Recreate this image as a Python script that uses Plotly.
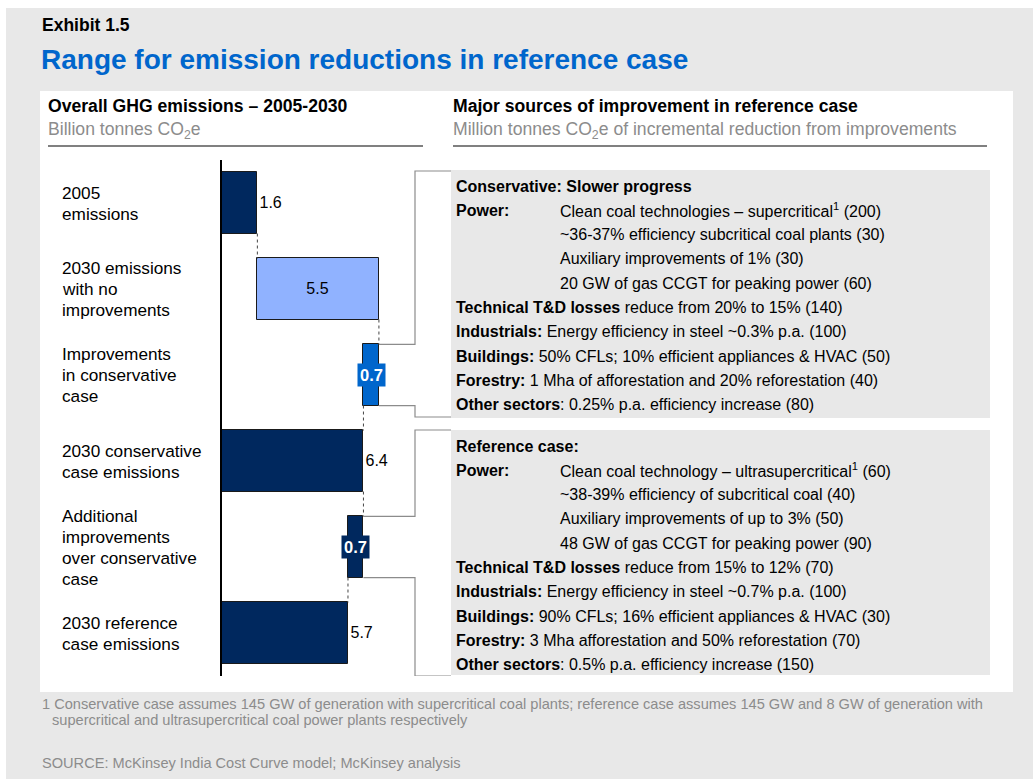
import plotly.graph_objects as go

W, H = 1033, 779

# waterfall data (billion tonnes CO2e)
categories = [
    "2005<br>emissions",
    "2030 emissions<br>with no<br>improvements",
    "Improvements<br>in conservative<br>case",
    "2030 conservative<br>case emissions",
    "Additional<br>improvements<br>over conservative<br>case",
    "2030 reference<br>case emissions",
]
values = [1.6, 5.5, -0.7, 6.4, -0.7, 5.7]
measures = ["absolute", "relative", "relative", "total", "relative", "total"]
bar_colors = ["#00285e", "#90b2ff", "#0066cc", "#00285e", "#00285e", "#00285e"]
value_labels = ["1.6", "5.5", "0.7", "6.4", "0.7", "5.7"]

# right-hand text boxes: (text at left column, text at indented column)
conservative_rows = [
    ("<b>Conservative: Slower progress</b>", ""),
    ("<b>Power:</b>", "Clean coal technologies – supercritical<sup>1</sup> (200)"),
    ("", "~36-37% efficiency subcritical coal plants (30)"),
    ("", "Auxiliary improvements of 1% (30)"),
    ("", "20 GW of gas CCGT for peaking power (60)"),
    ("<b>Technical T&amp;D losses</b> reduce from 20% to 15% (140)", ""),
    ("<b>Industrials:</b> Energy efficiency in steel ~0.3% p.a. (100)", ""),
    ("<b>Buildings:</b> 50% CFLs; 10% efficient appliances &amp; HVAC (50)", ""),
    ("<b>Forestry:</b> 1 Mha of afforestation and 20% reforestation (40)", ""),
    ("<b>Other sectors</b>: 0.25% p.a. efficiency increase (80)", ""),
]
reference_rows = [
    ("<b>Reference case:</b>", ""),
    ("<b>Power:</b>", "Clean coal technology – ultrasupercritical<sup>1</sup> (60)"),
    ("", "~38-39% efficiency of subcritical coal (40)"),
    ("", "Auxiliary improvements of up to 3% (50)"),
    ("", "48 GW of gas CCGT for peaking power (90)"),
    ("<b>Technical T&amp;D losses</b> reduce from 15% to 12% (70)", ""),
    ("<b>Industrials:</b> Energy efficiency in steel ~0.7% p.a. (100)", ""),
    ("<b>Buildings:</b> 90% CFLs; 16% efficient appliances &amp; HVAC (30)", ""),
    ("<b>Forestry:</b> 3 Mha afforestation and 50% reforestation (70)", ""),
    ("<b>Other sectors</b>: 0.5% p.a. efficiency increase (150)", ""),
]

footnote = [
    "1 Conservative case assumes 145 GW of generation with supercritical coal plants; "
    "reference case assumes 145 GW and 8 GW of generation with",
    "supercritical and ultrasupercritical coal power plants respectively",
]
source = "SOURCE: McKinsey India Cost Curve model; McKinsey analysis"

FONT = "Liberation Sans, Arial, sans-serif"
GRAY_BG = "#e8e8e8"
GRAY_TXT = "#8c8c8c"


def px(x):
    return x / W


def py(y):
    return 1 - y / H


# plot area in pixels
X0, XS, XR = 222, 22.1, 460
Y0, Y1 = 160, 676
ROW = (Y1 - Y0) / len(values)
BW = 0.71


def xd(p):
    return (p - X0) / XS


def yd(p):
    return (p - Y0) / ROW - 0.5


# bases / lengths of the floating bars
bases, lengths, ends = [], [], []
running = 0
for v, m in zip(values, measures):
    start = running if m == "relative" else 0
    running = running + v if m == "relative" else v
    bases.append(min(start, running))
    lengths.append(abs(running - start))
    ends.append(running)

rows = list(range(len(values)))
is_cut = [m == "relative" and v < 0 for v, m in zip(values, measures)]
text = [" " if c else t for t, c in zip(value_labels, is_cut)]
textpos = []
for v, m, c in zip(values, measures, is_cut):
    if c:
        textpos.append("none")
    elif m == "relative":
        textpos.append("inside")
    else:
        textpos.append("outside")

fig = go.Figure()
fig.add_trace(go.Bar(
    y=rows, x=lengths, base=bases, orientation="h", width=BW,
    marker=dict(color=bar_colors, line=dict(color="#1a1a1a", width=1)),
    text=text, textposition=textpos, insidetextanchor="middle",
    textfont=dict(family=FONT, size=16, color="black"),
    constraintext="none", cliponaxis=False, hoverinfo="skip",
))

shapes = [
    dict(type="rect", xref="paper", yref="paper", x0=px(6), x1=1, y0=0, y1=py(8),
         fillcolor=GRAY_BG, line_width=0, layer="below"),
    dict(type="rect", xref="paper", yref="paper", x0=px(40), x1=px(1013), y0=py(692), y1=py(91),
         fillcolor="white", line_width=0, layer="below"),
    dict(type="rect", xref="paper", yref="paper", x0=px(451), x1=px(990), y0=py(418), y1=py(170),
         fillcolor=GRAY_BG, line_width=0, layer="below"),
    dict(type="rect", xref="paper", yref="paper", x0=px(451), x1=px(990), y0=py(675), y1=py(430),
         fillcolor=GRAY_BG, line_width=0, layer="below"),
    dict(type="line", xref="paper", yref="paper", x0=px(48), x1=px(423), y0=py(146), y1=py(146),
         line=dict(color="#808080", width=2)),
    dict(type="line", xref="paper", yref="paper", x0=px(453), x1=px(987), y0=py(146), y1=py(146),
         line=dict(color="#808080", width=2)),
]

# dotted connectors between consecutive bars
for i in range(len(values) - 1):
    shapes.append(dict(type="line", xref="x", yref="y", x0=ends[i], x1=ends[i],
                       y0=i + BW / 2, y1=i + 1 - BW / 2,
                       line=dict(color="#444", width=1, dash="dot")))

# brackets linking improvement bars to their text boxes
boxes = {2: (171, 417), 4: (430, 676)}
for i, (top, bot) in boxes.items():
    xr = bases[i] + lengths[i]
    for ybar, ybox in ((i - BW / 2, top), (i + BW / 2, bot)):
        shapes.append(dict(
            type="path", xref="x", yref="y",
            path=f"M {xr},{ybar} L {xd(415)},{ybar} L {xd(415)},{yd(ybox)} L {xd(451)},{yd(ybox)}",
            line=dict(color="#8c8c8c", width=1.2)))

annotations = []


def add_text(x, y, s, size, color="black", **kw):
    annotations.append(dict(xref="paper", yref="paper", x=px(x), y=py(y), text=s,
                            showarrow=False, xanchor="left", yanchor="middle", align="left",
                            font=dict(family=FONT, size=size, color=color), **kw))


add_text(40, 25, "<b>Exhibit 1.5</b>", 17.5)
add_text(39, 60, "<b>Range for emission reductions in reference case</b>", 28, color="#0066cc")
add_text(46, 106, "<b>Overall GHG emissions – 2005-2030</b>", 17.6)
add_text(46, 130, "Billion tonnes CO<sub>2</sub>e", 17.6, color=GRAY_TXT)
add_text(451, 106, "<b>Major sources of improvement in reference case</b>", 17.6)
add_text(451, 130, "Million tonnes CO<sub>2</sub>e of incremental reduction from improvements", 17.6,
         color=GRAY_TXT)

for y_first, box_rows in ((186, conservative_rows), (446, reference_rows)):
    for k, (left, right) in enumerate(box_rows):
        y = y_first + k * 24.3
        if left:
            add_text(454, y, left, 16)
        if right:
            add_text(558, y, right, 16)

add_text(40, 704, footnote[0], 14.6, color=GRAY_TXT)
add_text(50, 720, footnote[1], 14.6, color=GRAY_TXT)
add_text(40, 763, source, 14.6, color=GRAY_TXT)

# category labels, one annotation per line for a tighter line pitch
LINE = 21
for i, c in enumerate(categories):
    parts = c.split("<br>")
    for k, part in enumerate(parts):
        off = (k - (len(parts) - 1) / 2) * LINE / ROW
        annotations.append(dict(xref="paper", yref="y", x=px(60), y=i + off, text=part,
                                showarrow=False, xanchor="left", yanchor="middle", align="left",
                                font=dict(family=FONT, size=17.2, color="black")))

# labels for the improvement bars
for i, c in enumerate(is_cut):
    if c:
        annotations.append(dict(xref="x", yref="y", x=bases[i] + lengths[i] / 2, y=i,
                                text=f"<b>{value_labels[i]}</b>", showarrow=False,
                                bgcolor=bar_colors[i], borderpad=2,
                                font=dict(family=FONT, size=16.5, color="white")))

fig.update_layout(
    width=W, height=H, margin=dict(l=0, r=0, t=0, b=0),
    paper_bgcolor="white", plot_bgcolor="rgba(0,0,0,0)",
    showlegend=False, shapes=shapes, annotations=annotations,
    xaxis=dict(domain=[px(X0), px(XR)], range=[0, xd(XR)], visible=False, fixedrange=True),
    yaxis=dict(domain=[py(Y1), py(Y0)], range=[len(values) - 0.5, -0.5],
               showline=True, linecolor="black", linewidth=2, showticklabels=False,
               ticks="", showgrid=False, zeroline=False, fixedrange=True),
    bargap=0,
)

fig.write_html("out.html", config={"displayModeBar": False},
               post_script="document.body.style.margin='0';")
